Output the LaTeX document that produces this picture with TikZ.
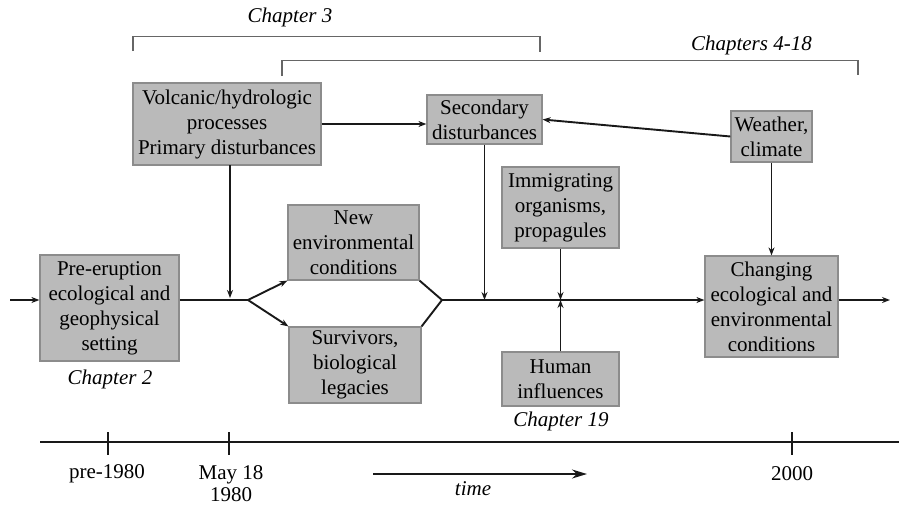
\documentclass[tikz,border=0pt]{standalone}
\usepackage{fontspec}
\setmainfont{Liberation Serif}
\usetikzlibrary{arrows.meta}
\tikzset{
  box/.style={draw=black!45, line width=1.2pt, fill=black!27, inner sep=0pt, align=center, font=\fontsize{21}{25}\selectfont},
  lbl/.style={inner sep=0pt, align=center, font=\fontsize{21}{22}\selectfont},
  chap/.style={inner sep=0pt, font=\fontsize{21}{24}\selectfont\itshape},
  conn/.style={line width=1.9pt, black!90},
  arr/.style={conn, -{Stealth[length=8pt,width=6pt]}},
  brk/.style={line width=1.5pt, black!60},
}
\begin{document}
\begin{tikzpicture}[x=1pt,y=-1pt]
\useasboundingbox (0,0) rectangle (899,507);
% boxes
\node[box, minimum width=139pt, minimum height=106pt] (pre) at (109.5,308) {Pre-eruption\\ecological and\\geophysical\\setting};
\node[box, minimum width=188pt, minimum height=82pt] (volc) at (227,124) {Volcanic/hydrologic\\processes\\Primary disturbances};
\node[box, minimum width=115pt, minimum height=49pt] (sec) at (484.5,119.5) {Secondary\\disturbances};
\node[box, minimum width=81pt, minimum height=51pt] (wea) at (771.5,136.5) {Weather,\\climate};
\node[box, minimum width=131pt, minimum height=75pt] (newenv) at (353.5,242.5) {New\\environmental\\conditions};
\node[box, minimum width=132pt, minimum height=76pt] (surv) at (355,365) {Survivors,\\biological\\legacies};
\node[box, minimum width=117pt, minimum height=81pt] (imm) at (560.5,207.5) {Immigrating\\organisms,\\propagules};
\node[box, minimum width=117pt, minimum height=54pt] (hum) at (560.5,379) {Human\\influences};
\node[box, minimum width=133pt, minimum height=101pt] (chg) at (771.5,306.5) {Changing\\ecological and\\environmental\\conditions};
% chapter labels
\node[chap] (c2) at (110,379) {Chapter 2};
\node[chap] (c19) at (561,421) {Chapter 19};
\node[chap] (c3) at (290,17) {Chapter 3};
\node[chap, anchor=east] (c418) at (812,45) {Chapters 4-18};
% brackets
\draw[brk] (133,51) -- (133,36.5) -- (540,36.5) -- (540,52);
\draw[brk] (282,76) -- (282,60.5) -- (858,60.5) -- (858,75);
% flow coordinates
\coordinate (lin) at (10,300);
\coordinate (split) at (248,300);
\coordinate (merge) at (442,300);
\coordinate (rout) at (890,300);
\coordinate (vdrop) at (230,165);
\coordinate (vhit) at (230,298);
% connectors
\draw[arr] (lin) -- (lin -| pre.west);
\draw[conn] (pre.east |- split) -- (split);
\draw[arr] (vdrop) -- (vhit);
\draw[arr] (split) -- (newenv.south west);
\draw[arr] (split) -- (surv.north west);
\draw[conn, line join=miter] (newenv.south east) -- (merge) -- (surv.north east);
\draw[arr] (merge) -- (merge -| chg.west);
\draw[arr] (sec.south) -- (sec.south |- merge);
\draw[arr] (volc.east) -- (volc.east -| sec.west);
\draw[arr] (wea.west) -- (sec.east);
\draw[arr] (wea.south) -- (chg.north);
\draw[arr] (imm.south) -- (imm.south |- merge);
\draw[arr] (hum.north) -- (hum.north |- merge);
\draw[arr] (chg.east |- rout) -- (rout);
% timeline
\draw[conn] (40,442) -- (899,442);
\foreach \x in {108,229,792} \draw[conn] (\x,432) -- (\x,455);
\node[lbl] (t1) at (107,474) {pre-1980};
\node[lbl] (t2) at (231,484) {May 18\\1980};
\node[lbl] (t3) at (792,474) {2000};
\coordinate (ta) at (373,474);
\coordinate (tb) at (587,474);
\draw[conn, -{Stealth[length=15pt,width=9pt]}] (ta) -- (tb);
\node[chap] (tt) at (473,489) {time};
\end{tikzpicture}
\end{document}
